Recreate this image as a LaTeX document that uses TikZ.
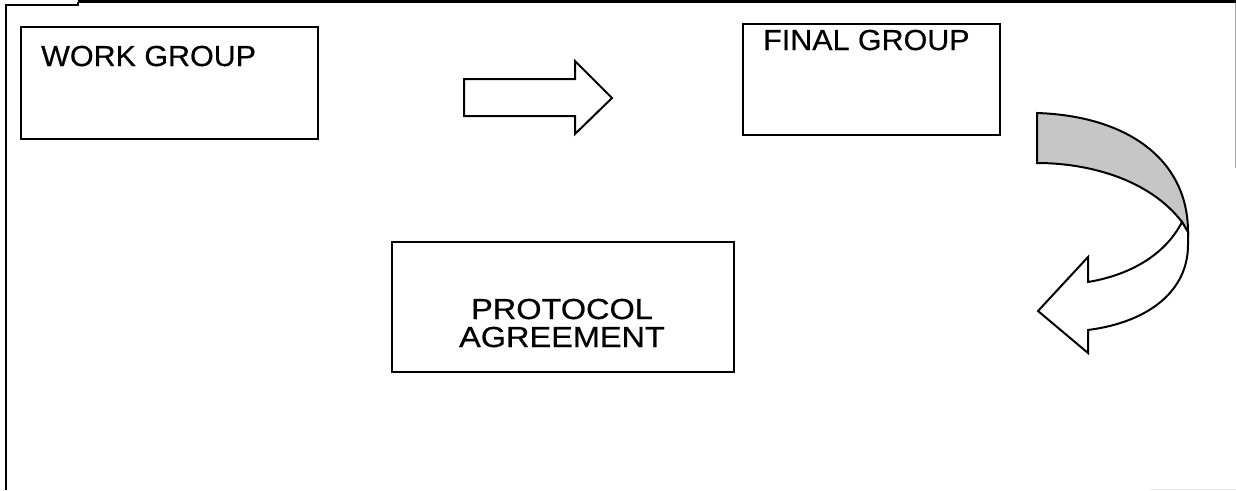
\documentclass[tikz,border=0pt]{standalone}
\usepackage{fontspec}
\newfontfamily\labelfont[FakeStretch=1.05,FakeBold=0.5]{Liberation Sans}
\newfontfamily\widelabelfont[FakeStretch=1.12,FakeBold=0.5]{Liberation Sans}

\begin{document}
\begin{tikzpicture}[x=1pt,y=-1pt,
    box/.style={draw,line width=2pt,inner sep=0pt,anchor=north west},
    boxtext/.style={inner sep=0pt,font=\labelfont\fontsize{29}{27}\selectfont},
    widetext/.style={inner sep=0pt,font=\widelabelfont\fontsize{29}{27}\selectfont},
    blockarrow/.style={draw,line width=2pt,line join=miter,fill=white}]
  \useasboundingbox (0,0) rectangle (1236,490);

  % page frame
  \draw[line width=1.8pt] (6,490) -- (6,5) -- (78,5) -- (78,1.5);
  \draw[line width=3pt] (78,1.5) -- (1236,1.5);
  \draw[gray!70,line width=1pt] (1235,3) -- (1235,168);
  \draw[gray!20,line width=1pt] (1150,489) -- (1236,489);

  % boxes
  \node[box,minimum width=297pt,minimum height=112pt] (work) at (20,26) {};
  \node[box,minimum width=257pt,minimum height=111pt] (final) at (742,23) {};
  \node[box,minimum width=342pt,minimum height=130pt] (protocol) at (391,241) {};

  \node[boxtext,anchor=base west] (worklabel) at (41,66) {WORK GROUP};
  \node[boxtext,anchor=base west] (finallabel) at (763,50) {FINAL GROUP};
  \node[widetext,anchor=base,align=center] (protocollabel) at (562,347)
      {PROTOCOL\\[1pt]AGREEMENT};

  % straight block arrow
  \draw[blockarrow] (464,79) -- (575,79) -- (575,61) -- (612,98)
      -- (575,134) -- (575,116) -- (464,116) -- cycle;

  % curved block arrow: shaded back of the ribbon
  \draw[blockarrow,fill=gray!45] (1037,113) .. controls (1128,116) and (1188,160) .. (1188,232)
      -- (1182,222) .. controls (1150,180) and (1090,163) .. (1037,163) -- cycle;
  % white front with the head
  \draw[blockarrow] (1182,222) .. controls (1165,255) and (1130,275) .. (1088,282)
      -- (1088,257) -- (1038,311) -- (1088,353) -- (1088,330)
      .. controls (1150,322) and (1188,290) .. (1188,245) -- (1188,232) -- cycle;
\end{tikzpicture}
\end{document}
